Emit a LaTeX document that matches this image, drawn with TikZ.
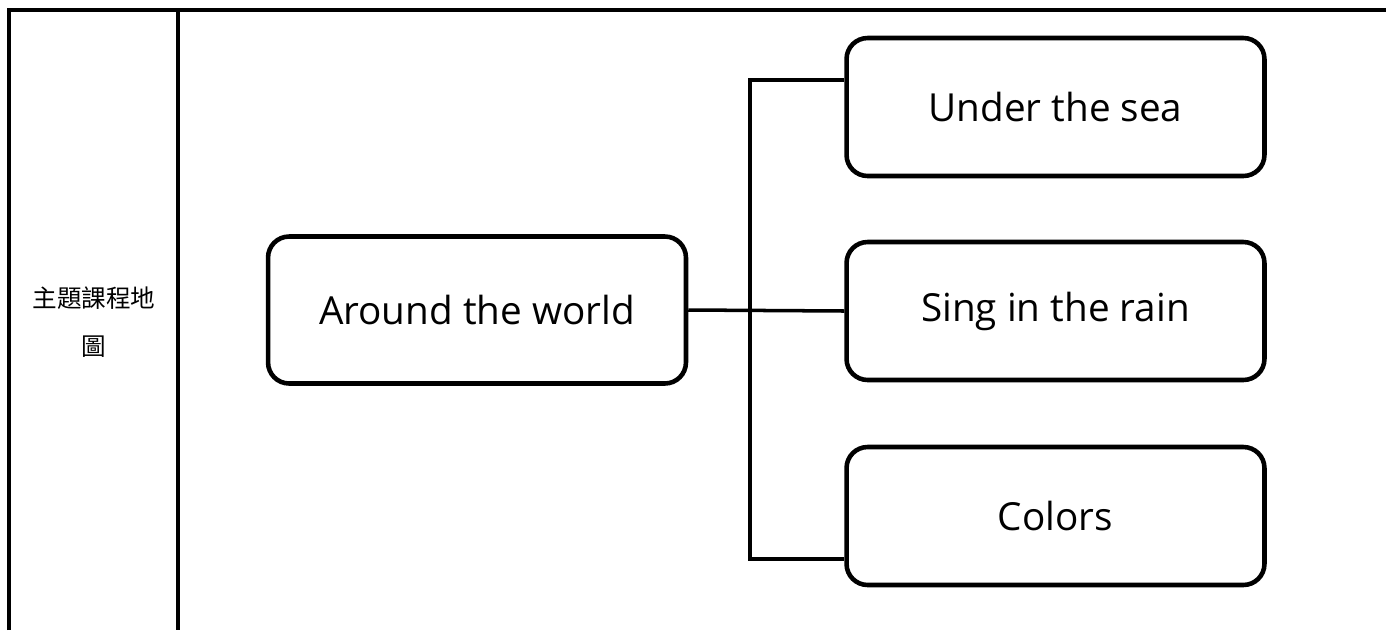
\documentclass[tikz,border=0pt]{standalone}
\usepackage{fontspec}
\setmainfont{Open Sans}
\newfontfamily\cjkfont{Noto Sans CJK TC}
\usetikzlibrary{calc}

\begin{document}
\begin{tikzpicture}[x=0.02cm, y=-0.02cm, every node/.style={font=\fontsize{22}{26}\selectfont},
	topicbox/.style={draw, line width=2.6pt, rounded corners=12pt, minimum width=8.36cm, minimum height=2.76cm},
	gridline/.style={line width=2pt},
	branch/.style={line width=2pt}]
	\useasboundingbox (0,0) rectangle (1386,630);
	\draw[gridline] (9,630) -- (9,10) -- (1386,10);
	\draw[gridline] (178,10) -- (178,630);
	\node[align=center, font=\cjkfont\fontsize{14}{27}\selectfont] (celllabel) at (94,322) {主題課程地\\圖};
	\node[topicbox, minimum height=2.94cm] (world) at (477,310) {Around the world};
	\foreach \name/\lab/\y in {sea/Under the sea/107, rain/Sing in the rain/311, colors/Colors/516} {\node[topicbox] (\name) at (1055.5,\y) {\lab};}
	\coordinate (trunktop) at (750,80);
	\coordinate (trunkbottom) at (750,559);
	\draw[branch] (world.east) -- (rain.west);
	\draw[branch] (sea.west |- trunktop) -- (trunktop) -- (trunkbottom) -- (colors.west |- trunkbottom);
\end{tikzpicture}
\end{document}
